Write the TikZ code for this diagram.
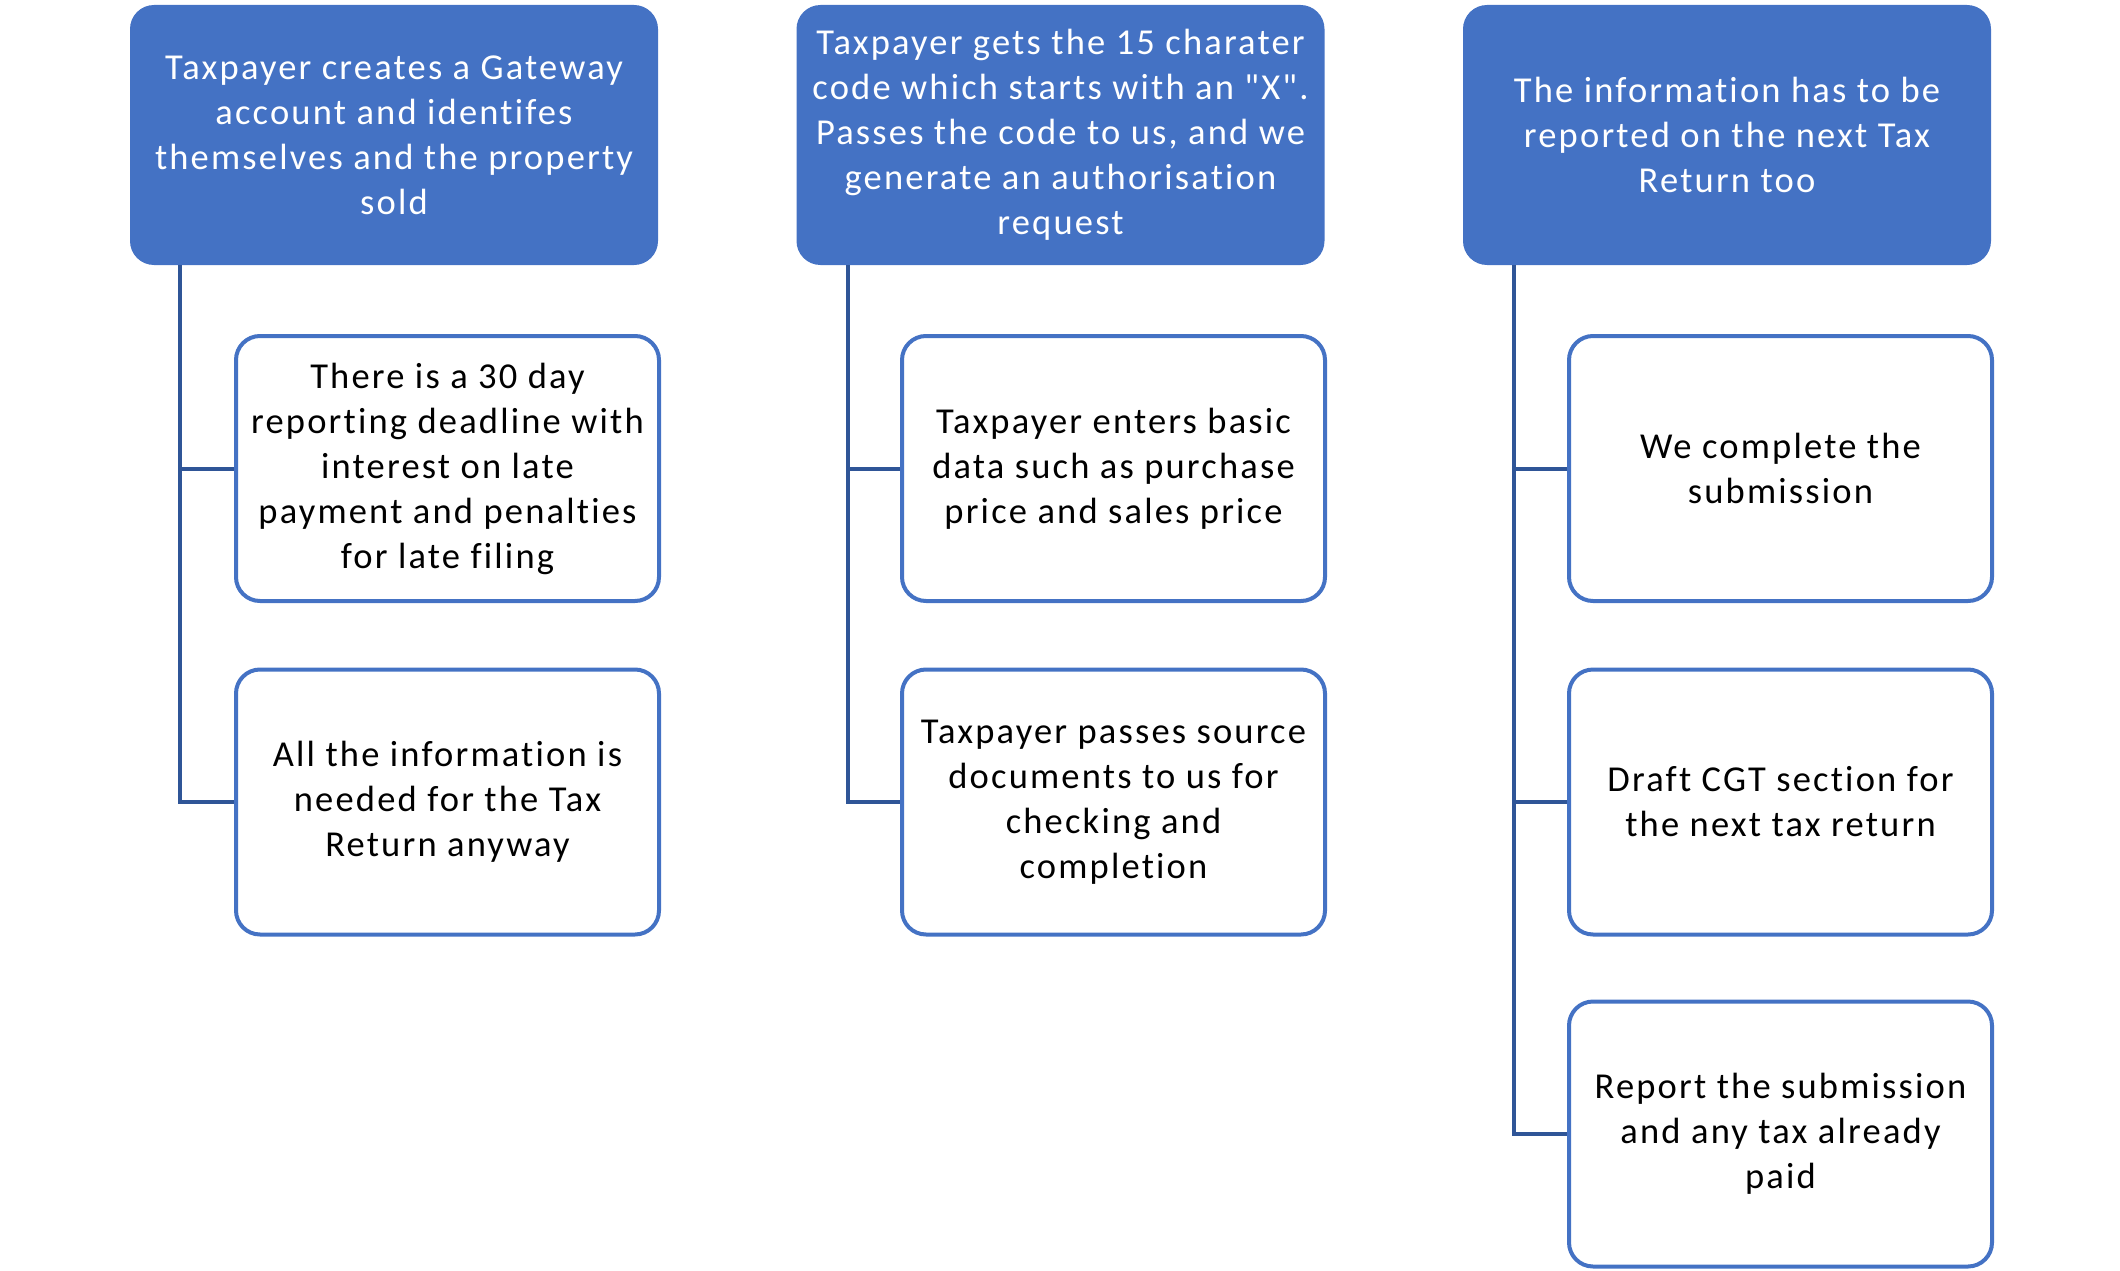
\documentclass[tikz,border=0pt]{standalone}
\usepackage{fontspec}
\setmainfont{Carlito}[LetterSpace=6, Ligatures={TeXOff,NoCommon}]
\definecolor{topblue}{HTML}{4472C4}
\definecolor{boxblue}{HTML}{4472C4}
\definecolor{linkblue}{HTML}{2F5597}
\tikzset{
  topbox/.style={draw=none, fill=topblue, rounded corners=24pt, minimum width=528pt, minimum height=260pt, inner sep=0pt, text=white, align=center, font=\fontsize{36.5}{45}\selectfont},
  childbox/.style={draw=boxblue, fill=white, line width=4pt, rounded corners=24pt, minimum width=423pt, minimum height=265pt, inner sep=0pt, text=black, align=center, font=\fontsize{36.5}{45}\selectfont},
  conn/.style={draw=linkblue, line width=4pt}
}
\begin{document}
\begin{tikzpicture}[x=1pt,y=-1pt]
\useasboundingbox (0,0) rectangle (2120,1271);
\node[topbox] (t1) at (394,135) {Taxpayer creates a Gateway\\account and identifes\\themselves and the property\\sold};
\node[topbox] (t2) at (1060.5,135) {Taxpayer gets the 15 charater\\code which starts with an "X".\\Passes the code to us, and we\\generate an authorisation\\request};
\node[topbox] (t3) at (1727,135) {The information has to be\\reported on the next Tax\\Return too};
\node[childbox] (c11) at (447.5,468.5) {There is a 30 day\\reporting deadline with\\interest on late\\payment and penalties\\for late filing};
\node[childbox] (c12) at (447.5,802) {All the information is\\needed for the Tax\\Return anyway};
\node[childbox] (c21) at (1113.5,468.5) {Taxpayer enters basic\\data such as purchase\\price and sales price};
\node[childbox] (c22) at (1113.5,802) {Taxpayer passes source\\documents to us for\\checking and\\completion};
\node[childbox] (c31) at (1780.5,468.5) {We complete the\\submission};
\node[childbox] (c32) at (1780.5,802) {Draft CGT section for\\the next tax return};
\node[childbox] (c33) at (1780.5,1134) {Report the submission\\and any tax already\\paid};
\coordinate (l1) at (180,265);
\coordinate (l2) at (848,265);
\coordinate (l3) at (1514,265);
\draw[conn] (l1) |- (c12.west);
\draw[conn] (l1 |- c11.west) -- (c11.west);
\draw[conn] (l2) |- (c22.west);
\draw[conn] (l2 |- c21.west) -- (c21.west);
\draw[conn] (l3) |- (c33.west);
\draw[conn] (l3 |- c31.west) -- (c31.west);
\draw[conn] (l3 |- c32.west) -- (c32.west);
\end{tikzpicture}
\end{document}
